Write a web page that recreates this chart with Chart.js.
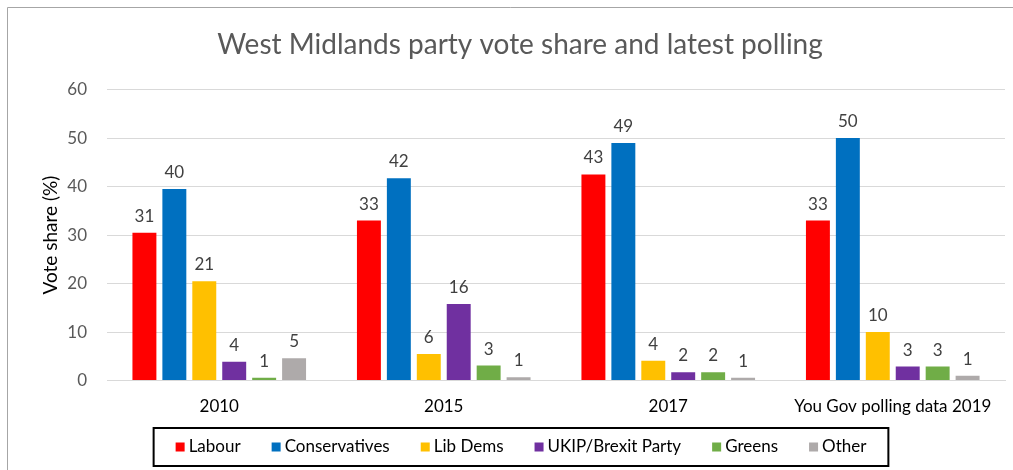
<!DOCTYPE html>
<html>
<head>
<meta charset="utf-8">
<script src="https://cdn.jsdelivr.net/npm/chart.js@4.4.1/dist/chart.umd.min.js"></script>
<style>
  html, body { margin: 0; padding: 0; background: #fff; }
  #wrap { width: 1013px; height: 470px; position: relative; }
</style>
</head>
<body>
<div id="wrap"><canvas id="voteChart"></canvas></div>
<script>
// categories
const years = ['2010', '2015', '2017', 'You Gov polling data 2019'];

// vote share per party (%)
const labour        = [30.5, 33.0, 42.5, 33.0];
const conservatives = [39.5, 41.7, 49.0, 50.0];
const libDems       = [20.5, 5.5, 4.1, 10.0];
const ukipBrexit    = [3.9, 15.8, 1.7, 2.9];
const greens        = [0.6, 3.1, 1.7, 2.9];
const other         = [4.6, 0.7, 0.6, 1.0];

const yTicks = [0, 10, 20, 30, 40, 50, 60];

const FONT = 'Lato';

// outer frame of the screenshot (left + top edge)
const framePlugin = {
  id: 'frame',
  beforeDraw(chart) {
    const ctx = chart.ctx;
    ctx.save();
    ctx.strokeStyle = '#a6a6a6';
    ctx.lineWidth = 1;
    ctx.beginPath();
    ctx.moveTo(7.5, chart.height);
    ctx.lineTo(7.5, 7.5);
    ctx.lineTo(chart.width, 7.5);
    ctx.stroke();
    ctx.restore();
  }
};

// rounded value above every bar
const valueLabels = {
  id: 'valueLabels',
  afterDatasetsDraw(chart) {
    const ctx = chart.ctx;
    ctx.save();
    ctx.font = '17px ' + FONT;
    ctx.fillStyle = '#404040';
    ctx.textAlign = 'center';
    ctx.textBaseline = 'bottom';
    chart.data.datasets.forEach((ds, i) => {
      chart.getDatasetMeta(i).data.forEach((bar, j) => {
        ctx.fillText(Math.round(ds.data[j]), bar.x, bar.y - 8);
      });
    });
    ctx.restore();
  }
};

// boxed legend under the chart, like the excel one
const boxLegend = {
  id: 'boxLegend',
  afterDraw(chart) {
    const ctx = chart.ctx;
    const sets = chart.data.datasets;
    const box = 9, gapText = 4, gapItem = 31, pad = 22;
    const cx = 521, cy = 447;
    ctx.save();
    ctx.font = '17px ' + FONT;
    const widths = sets.map(ds => box + gapText + ctx.measureText(ds.label).width);
    const total = widths.reduce((a, b) => a + b, 0) + gapItem * (sets.length - 1);
    let x = cx - total / 2;

    ctx.strokeStyle = '#000';
    ctx.lineWidth = 2;
    ctx.strokeRect(x - pad, 428, total + pad * 2, 38);

    ctx.textBaseline = 'middle';
    ctx.textAlign = 'left';
    sets.forEach((ds, i) => {
      ctx.fillStyle = ds.backgroundColor;
      ctx.fillRect(x, cy - box / 2, box, box);
      ctx.fillStyle = '#000';
      ctx.fillText(ds.label, x + box + gapText, cy);
      x += widths[i] + gapItem;
    });
    ctx.restore();
  }
};

const ctx = document.getElementById('voteChart').getContext('2d');
new Chart(ctx, {
  type: 'bar',
  data: {
    labels: years,
    datasets: [
      { label: 'Labour', data: labour, backgroundColor: '#ff0000' },
      { label: 'Conservatives', data: conservatives, backgroundColor: '#0070c0' },
      { label: 'Lib Dems', data: libDems, backgroundColor: '#ffc000' },
      { label: 'UKIP/Brexit Party', data: ukipBrexit, backgroundColor: '#7030a0' },
      { label: 'Greens', data: greens, backgroundColor: '#70ad47' },
      { label: 'Other', data: other, backgroundColor: '#aeaaaa' }
    ]
  },
  options: {
    responsive: true,
    maintainAspectRatio: false,
    animation: false,
    datasets: {
      bar: { categoryPercentage: 0.8, barPercentage: 0.8 }
    },
    layout: { padding: { left: 35, right: 8, top: 0, bottom: 45 } },
    plugins: {
      legend: { display: false },
      tooltip: { enabled: false },
      title: {
        display: true,
        text: 'West Midlands party vote share and latest polling',
        color: '#595959',
        font: { family: FONT, size: 28, weight: 'normal' },
        padding: { top: 28, bottom: 28 }
      }
    },
    scales: {
      x: {
        grid: { display: false },
        border: { color: '#d9d9d9', width: 1 },
        ticks: { color: '#000', font: { family: FONT, size: 17 }, padding: 8 }
      },
      y: {
        min: yTicks[0],
        max: yTicks[yTicks.length - 1],
        afterBuildTicks(scale) {
          scale.ticks = yTicks.map(v => ({ value: v }));
        },
        afterFit(scale) { scale.width = 72; },
        grid: { color: '#d9d9d9', drawTicks: false },
        border: { display: false },
        ticks: { color: '#595959', font: { family: FONT, size: 17 }, padding: 20 },
        title: {
          display: true,
          text: 'Vote share (%)',
          color: '#000',
          font: { family: FONT, size: 19 }
        }
      }
    }
  },
  plugins: [framePlugin, valueLabels, boxLegend]
});
</script>
</body>
</html>
